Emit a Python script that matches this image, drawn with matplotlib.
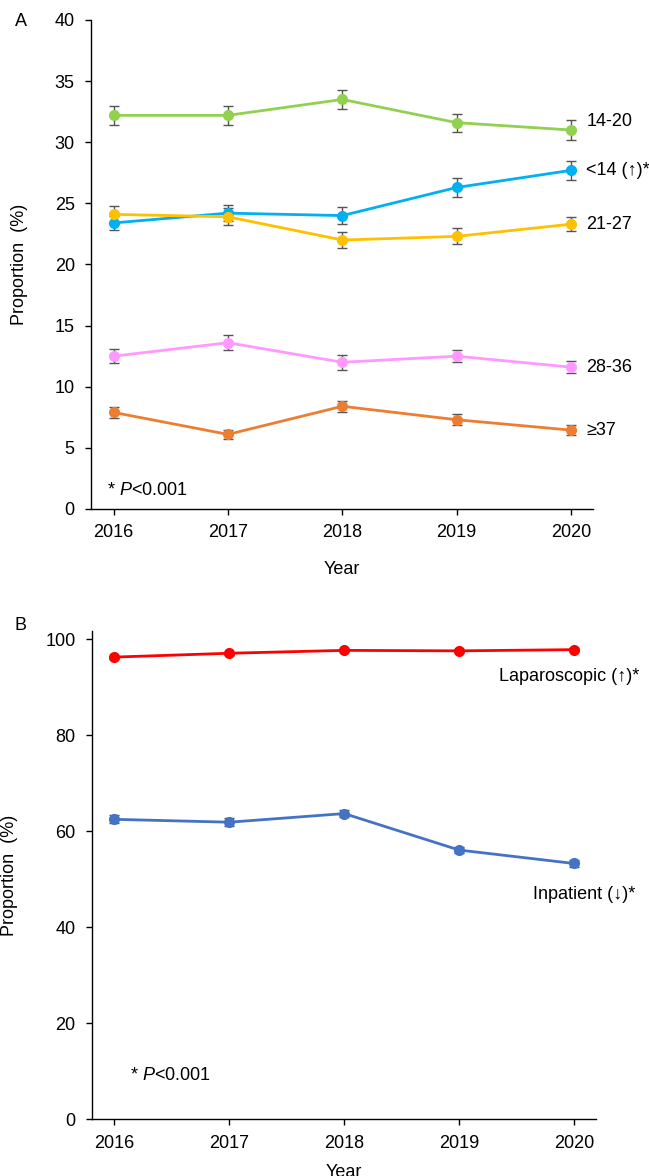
import matplotlib
matplotlib.use("Agg")
import matplotlib.pyplot as plt

plt.rcParams["font.family"] = ["Liberation Sans", "DejaVu Sans"]
plt.rcParams["mathtext.fontset"] = "custom"
plt.rcParams["mathtext.rm"] = "Liberation Sans"
plt.rcParams["mathtext.it"] = "Liberation Sans:italic"

YEARS = [2016, 2017, 2018, 2019, 2020]

# Panel A: proportion by group (%), with error bars
A_LABELS = ["14-20", "<14 (\u2191)*", "21-27", "28-36", "\u226537"]
A_VALUES = [
    [32.2, 32.2, 33.5, 31.6, 31.0],
    [23.4, 24.2, 24.0, 26.3, 27.7],
    [24.1, 23.9, 22.0, 22.3, 23.3],
    [12.5, 13.6, 12.0, 12.5, 11.6],
    [7.9, 6.1, 8.4, 7.3, 6.45],
]
A_ERRORS = [
    [0.8, 0.8, 0.75, 0.75, 0.78],
    [0.6, 0.65, 0.7, 0.75, 0.75],
    [0.7, 0.7, 0.65, 0.65, 0.6],
    [0.55, 0.6, 0.6, 0.5, 0.5],
    [0.45, 0.35, 0.45, 0.45, 0.4],
]
A_COLORS = ["#92D050", "#00B0F0", "#FFC000", "#FF99FF", "#ED7D31"]
A_LABEL_DY = [6, 0, 0, 0, 0]

# Panel B
B_LABELS = ["Laparoscopic (\u2191)*", "Inpatient (\u2193)*"]
B_VALUES = [
    [96.3, 97.1, 97.7, 97.6, 97.85],
    [62.5, 61.9, 63.7, 56.1, 53.3],
]
B_ERRORS = [
    [0.3, 0.3, 0.3, 0.3, 0.3],
    [0.8, 0.8, 0.7, 0.7, 0.7],
]
B_COLORS = ["#FF0000", "#4472C4"]
B_LABEL_OFFSET = [(47, -19), (44, -22)]

FS = 13
ERR_COLOR = "#555555"
P_NOTE = "* $\\mathit{P}$<0.001"


def style_axes(ax, ylim, yticks, xlabelpad, ylabel_x):
    ax.set_xlim(2015.8, 2020.19)
    ax.set_ylim(*ylim)
    ax.set_xticks(YEARS)
    ax.set_yticks(yticks)
    for side in ("top", "right"):
        ax.spines[side].set_visible(False)
    for side in ("left", "bottom"):
        ax.spines[side].set_linewidth(1.0)
    ax.tick_params(labelsize=FS, length=4, width=1.0)
    ax.tick_params(axis="x", pad=7)
    ax.tick_params(axis="y", pad=7.5)
    ax.set_xlabel("Year", fontsize=FS, labelpad=xlabelpad)
    ax.set_ylabel("Proportion  (%)", fontsize=FS)
    ax.yaxis.set_label_coords(ylabel_x, 0.5)


def draw_series(ax, values, errors, color):
    ax.errorbar(YEARS, values, yerr=errors, color=color, lw=2.0,
                marker="o", ms=7, ecolor=ERR_COLOR, elinewidth=1.0,
                capsize=3.5, capthick=1.0, zorder=3)


fig = plt.figure(figsize=(6.49, 11.76), dpi=100)

ax_a = fig.add_axes([0.1398, 0.5672, 0.7736, 0.4158])
for vals, errs, col, lab, dy in zip(A_VALUES, A_ERRORS, A_COLORS, A_LABELS, A_LABEL_DY):
    draw_series(ax_a, vals, errs, col)
    ax_a.annotate(lab, (YEARS[-1], vals[-1]), xytext=(11, dy),
                  textcoords="offset points", va="center", ha="left",
                  fontsize=FS, annotation_clip=False)
style_axes(ax_a, (0, 40), range(0, 41, 5), 14, -0.125)
ax_a.text(0.032, 0.037, P_NOTE, transform=ax_a.transAxes, fontsize=FS, va="center")
fig.text(15 / 649, 1 - 22 / 1176, "A", fontsize=FS, va="center", ha="left")

ax_b = fig.add_axes([0.141, 0.0482, 0.777, 0.4155])
for vals, errs, col, lab, off in zip(B_VALUES, B_ERRORS, B_COLORS, B_LABELS, B_LABEL_OFFSET):
    draw_series(ax_b, vals, errs, col)
    ax_b.annotate(lab, (YEARS[-1], vals[-1]), xytext=off,
                  textcoords="offset points", va="center", ha="right",
                  fontsize=FS, annotation_clip=False)
style_axes(ax_b, (0, 101.8), range(0, 101, 20), 9, -0.145)
ax_b.text(0.076, 0.089, P_NOTE, transform=ax_b.transAxes, fontsize=FS, va="center")
fig.text(15 / 649, 1 - 625 / 1176, "B", fontsize=FS, va="center", ha="left")

fig.savefig("out.png", dpi=100)
